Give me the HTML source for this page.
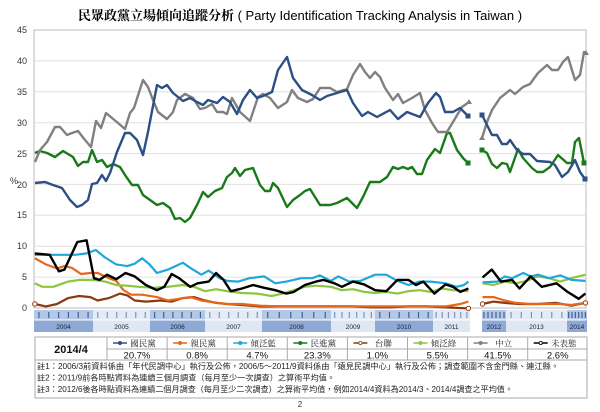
<!DOCTYPE html>
<html><head><meta charset="utf-8"><style>
body{margin:0;background:#fff;width:600px;height:407px;overflow:hidden;font-family:"Liberation Sans","Noto Sans CJK TC",sans-serif}
</style></head><body>
<svg id="s" width="600" height="407" xmlns="http://www.w3.org/2000/svg" font-family="Liberation Sans, Noto Sans CJK TC, sans-serif">
<text x="300" y="20" text-anchor="middle" font-size="13" fill="#000"><tspan font-family="Noto Serif CJK SC, serif" font-weight="bold">民眾政黨立場傾向追蹤分析</tspan> ( Party Identification Tracking Analysis in Taiwan )</text>
<rect x="34" y="30" width="552" height="278" fill="none" stroke="#bbb"/>
<g stroke="#e0e0e0" stroke-width="1">
<line x1="34" y1="60.9" x2="586" y2="60.9"/><line x1="34" y1="91.8" x2="586" y2="91.8"/><line x1="34" y1="122.7" x2="586" y2="122.7"/><line x1="34" y1="153.6" x2="586" y2="153.6"/><line x1="34" y1="184.4" x2="586" y2="184.4"/><line x1="34" y1="215.3" x2="586" y2="215.3"/><line x1="34" y1="246.2" x2="586" y2="246.2"/><line x1="34" y1="277.1" x2="586" y2="277.1"/>
</g>
<g font-size="9" fill="#333" text-anchor="end">
<text x="27" y="33">45</text><text x="27" y="64">40</text><text x="27" y="95">35</text><text x="27" y="126">30</text><text x="27" y="157">25</text><text x="27" y="188">20</text><text x="27" y="218">15</text><text x="27" y="249">10</text><text x="27" y="280">5</text><text x="27" y="311">0</text>
</g>
<text x="10" y="184" font-size="9" fill="#333">%</text>
<g id="band"></g>
<g id="lines" fill="none" stroke-width="2.2" stroke-linejoin="round"></g>
<g id="tbl"></g>
<text x="300" y="407" font-size="8" fill="#333" text-anchor="middle">2</text>
</svg>
<script>
var NS="http://www.w3.org/2000/svg";
function el(p,t,a,txt){var e=document.createElementNS(NS,t);for(var k in a)e.setAttribute(k,a[k]);if(txt!=null)e.textContent=txt;p.appendChild(e);return e;}
var L=document.getElementById('lines');
function pl(pts,c,w){el(L,'polyline',{points:pts.map(function(p){return p[0]+','+p[1]}).join(' '),stroke:c,'stroke-width':w||2.2});}
function z(pts){return pts.map(function(p){return [(20+p[0]*0.37).toFixed(1),(230+p[1]*0.344).toFixed(1)]});}
var grayA=[[35,162],[40,150],[47,142],[55,127],[60,127],[67,135],[72,133],[78,131],[85,140],[91,147],[96,121],[101,128],[106,113],[112,118],[118,123],[125,129],[130,113],[134,108],[143,80],[148,87],[153,100],[158,112],[167,119],[173,112],[177,100],[185,94],[193,98],[200,109],[205,108],[212,104],[217,112],[223,112],[227,114],[232,98],[240,112],[250,121],[258,97],[263,94],[270,98],[278,108],[287,102],[292,90],[298,98],[307,102],[313,99],[320,88],[330,88],[337,92],[347,89],[353,75],[360,64],[365,72],[370,78],[375,72],[380,77],[385,88],[393,100],[398,94],[403,103],[412,98],[420,93],[425,110],[432,123],[438,132],[447,132],[453,122],[462,107],[469,102]];
var grayB=[[482,138],[487,122],[492,110],[500,98],[510,90],[515,94],[523,87],[530,84],[538,73],[547,65],[552,70],[558,70],[563,62],[568,57],[575,80],[580,75],[584,52],[586,53]];
var blueA=[[35,183],[45,182],[53,185],[62,188],[70,200],[77,207],[82,205],[88,200],[92,184],[97,183],[102,175],[106,181],[110,173],[117,152],[125,133],[130,133],[137,140],[143,155],[148,132],[157,85],[162,88],[167,85],[173,93],[183,101],[190,98],[197,102],[203,105],[208,100],[217,103],[223,97],[230,102],[237,114],[243,100],[250,90],[257,98],[263,96],[272,92],[278,70],[287,57],[293,78],[302,90],[312,95],[320,100],[327,96],[337,93],[347,90],[353,103],[362,116],[368,112],[377,117],[390,110],[398,119],[407,112],[420,117],[428,103],[436,93],[440,97],[445,112],[453,112],[460,108],[468,116]];
var blueB=[[482,115],[487,125],[492,135],[497,135],[502,144],[507,144],[510,140],[517,150],[523,154],[530,154],[537,161],[550,162],[555,165],[562,177],[568,172],[575,160],[580,172],[585,179]];
var grnA=[[35,153],[40,151],[47,153],[55,157],[63,151],[73,157],[78,166],[83,162],[88,162],[92,150],[97,162],[102,160],[107,167],[113,164],[120,167],[125,175],[132,185],[138,185],[143,195],[150,200],[157,205],[163,203],[170,208],[175,219],[180,218],[185,222],[190,218],[197,205],[203,192],[208,197],[215,191],[222,188],[227,177],[232,173],[235,168],[240,176],[245,170],[253,168],[260,185],[265,191],[270,191],[273,183],[278,188],[287,207],[293,200],[300,195],[305,191],[310,189],[320,205],[330,205],[337,203],[347,198],[357,208],[363,197],[370,182],[380,182],[387,177],[393,167],[398,169],[403,167],[408,169],[412,167],[417,174],[422,174],[427,160],[435,149],[440,153],[447,133],[450,133],[457,150],[463,158],[468,163]];
var grnB=[[482,150],[487,153],[492,164],[497,168],[502,163],[507,164],[510,172],[518,149],[523,158],[532,168],[537,172],[543,172],[550,167],[558,155],[567,163],[572,163],[575,142],[579,138],[584,163]];
var blkA=z([[40,68],[80,72],[105,120],[120,115],[155,35],[180,30],[200,140],[215,145],[235,130],[260,143],[285,125],[310,135],[340,160],[370,175],[390,165],[410,128],[430,140],[460,165],[480,155],[510,150],[530,125],[550,145],[570,178],[600,170],[630,160],[660,168],[690,175],[720,185],[740,180],[770,160],[800,150],[820,145],[850,155],[870,165],[900,150],[930,158],[960,175],[990,178],[1020,145],[1050,145],[1070,160],[1090,150],[1120,185],[1150,158],[1170,165],[1190,180],[1212,170]]);
var blkB=z([[1250,138],[1275,115],[1300,150],[1330,145],[1350,170],[1380,135],[1410,165],[1450,155],[1480,180],[1510,200],[1528,185]]);
var cyA=z([[40,72],[100,72],[150,72],[180,68],[205,58],[230,80],[260,100],[290,105],[310,98],[330,82],[350,100],[370,125],[400,115],[440,95],[460,110],[490,130],[510,118],[540,140],[560,148],[590,150],[620,140],[660,135],[690,155],[720,150],[760,140],[790,140],[810,132],[840,148],[860,135],[890,150],[920,148],[960,130],[990,130],[1020,148],[1050,160],[1080,150],[1110,150],[1150,155],[1180,165],[1200,160],[1212,150]]);
var cyB=z([[1250,152],[1290,150],[1310,135],[1330,140],[1360,125],[1380,135],[1400,130],[1430,140],[1460,132],[1490,145],[1528,148]]);
var lgA=z([[40,155],[60,165],[90,165],[130,150],[160,145],[200,145],[230,150],[260,160],[290,162],[320,165],[360,168],[400,165],[440,160],[470,165],[500,178],[530,172],[560,178],[600,183],[640,185],[680,192],[710,185],[740,175],[770,165],[800,162],[840,165],[870,175],[900,172],[930,180],[960,183],[990,180],[1020,185],[1050,178],[1080,175],[1110,180],[1140,170],[1170,175],[1212,178]]);
var lgB=z([[1250,155],[1280,160],[1310,150],[1340,155],[1370,148],[1400,135],[1430,140],[1460,150],[1490,140],[1528,130]]);
var orA=z([[40,82],[70,100],[100,112],[120,105],[140,110],[165,128],[190,125],[210,125],[240,140],[260,148],[280,175],[300,188],[330,188],[370,195],[400,205],[430,200],[460,195],[490,205],[520,210],[560,215],[600,215],[650,220],[700,222],[1150,222],[1190,215],[1212,208]]);
var orB=z([[1250,195],[1280,195],[1310,205],[1340,212],[1380,215],[1420,215],[1460,215],[1490,218],[1528,212]]);
var brA=z([[40,215],[70,222],[100,215],[130,198],[160,192],[190,195],[210,205],[240,198],[270,185],[290,190],[310,205],[340,208],[380,205],[410,208],[440,198],[470,195],[500,205],[530,212],[560,215],[600,218],[650,222],[900,222],[950,225],[1000,225],[1050,222],[1100,222],[1150,225],[1212,228]]);
var brB=z([[1250,215],[1280,208],[1310,212],[1350,215],[1400,215],[1450,212],[1490,220],[1528,212]]);
pl(brA,'#8b3a0f');pl(brB,'#8b3a0f');
pl(orA,'#e8661c');pl(orB,'#e8661c');
pl(lgA,'#8cc63f');pl(lgB,'#8cc63f');
pl(cyA,'#1fa7d9');pl(cyB,'#1fa7d9');
pl(blkA,'#000',2.4);pl(blkB,'#000',2.4);
pl(grnA,'#1a7a1a',2.4);pl(grnB,'#1a7a1a',2.4);
pl(grayA,'#808080',2.4);pl(grayB,'#808080',2.4);
pl(blueA,'#2c4f86',2.4);pl(blueB,'#2c4f86',2.4);
[[brA[0]],[brA[brA.length-1]],[brB[0]],[brB[brB.length-1]]].forEach(function(p){el(L,'circle',{cx:p[0][0],cy:p[0][1],r:2.2,fill:'#fff',stroke:'#8b3a0f','stroke-width':1});});
[[469,102],[482,138],[586,53]].forEach(function(p){el(L,'polygon',{points:(p[0]-3)+','+(p[1]+2)+' '+(p[0]+3)+','+(p[1]+2)+' '+p[0]+','+(p[1]-3),fill:'#808080'});});
[[468,116],[482,115],[585,179]].forEach(function(p){el(L,'rect',{x:p[0]-2.5,y:p[1]-2.5,width:5,height:5,fill:'#2c4f86'});});
[[468,163],[482,150],[584,163]].forEach(function(p){el(L,'rect',{x:p[0]-2.5,y:p[1]-2.5,width:5,height:5,fill:'#1a7a1a'});});
var B=document.getElementById('band');
var yrs=[['2004',34,93,1],['2005',93,150,0],['2006',150,205,1],['2007',205,262,0],['2008',262,331,1],['2009',331,375,0],['2010',375,433,1],['2011',433,470,0],['2012',482,506,1],['2013',506,567,0],['2014',567,587,1]];
yrs.forEach(function(y){
 el(B,'rect',{x:y[1],y:310,width:y[2]-y[1],height:10,fill:y[3]?'#b4c8e6':'#e3ebf6'});
 el(B,'rect',{x:y[1],y:320,width:y[2]-y[1],height:12,fill:y[3]?'#8ea9d6':'#dfe7f3'});
 el(B,'text',{x:(y[1]+y[2])/2,y:329,'font-size':'6.5','text-anchor':'middle',fill:'#223'},y[0]);
 var n=6;for(var i=0;i<n;i++){var xx=y[1]+(y[2]-y[1])*(i+0.5)/n;el(B,'rect',{x:xx-0.6,y:312,width:1.2,height:6,fill:y[3]?'#3d5f9a':'#7f93b8'});}
});
el(B,'line',{x1:34,y1:320,x2:586,y2:320,stroke:'#fff','stroke-width':1});
var T=document.getElementById('tbl');
el(T,'rect',{x:35,y:337,width:552,height:61,fill:'#fff',stroke:'#aaa'});
el(T,'line',{x1:35,y1:360,x2:587,y2:360,stroke:'#aaa'});
el(T,'line',{x1:107,y1:349,x2:587,y2:349,stroke:'#aaa'});
var names=['國民黨','親民黨','傾泛藍','民進黨','台聯','傾泛綠','中立','未表態'];
var cols=['#2c4f86','#e8661c','#1fa7d9','#1a7a1a','#8b3a0f','#8cc63f','#808080','#000'];
var vals=['20.7%','0.8%','4.7%','23.3%','1.0%','5.5%','41.5%','2.6%'];
for(var i=0;i<8;i++){var x0=107+i*60.1;
 el(T,'line',{x1:x0,y1:337,x2:x0,y2:360,stroke:'#aaa'});
 var cx=x0+30;
 el(T,'line',{x1:cx-24,y1:343,x2:cx-10,y2:343,stroke:cols[i],'stroke-width':1.5});
 el(T,'circle',{cx:cx-17,cy:343,r:1.6,fill:i==4||i==7?'#fff':cols[i],stroke:cols[i],'stroke-width':0.8});
 el(T,'text',{x:cx+6,y:346.5,'font-size':'8.5','text-anchor':'middle',fill:'#222','font-family':'Noto Serif CJK TC, serif'},names[i]);
 el(T,'text',{x:cx,y:358.5,'font-size':'9.5','text-anchor':'middle',fill:'#111'},vals[i]);
}
el(T,'text',{x:71,y:353,'font-size':'11','font-weight':'bold','text-anchor':'middle',fill:'#111'},'2014/4');
var notes=['註1：2006/3前資料係由「年代民調中心」執行及公佈，2006/5～2011/9資料係由「遠見民調中心」執行及公佈；調查範圍不含金門縣、連江縣。','註2：2011/9前各時點資料為連續三個月調查（每月至少一次調查）之算術平均值。','註3：2012/6後各時點資料為連續二個月調查（每月至少二次調查）之算術平均值，例如2014/4資料為2014/3、2014/4調查之平均值。'];
var tl=[522,298,476];
notes.forEach(function(t,i){el(T,'text',{x:37,y:369+i*11.5,'font-size':'8',fill:'#222',textLength:tl[i],lengthAdjust:'spacingAndGlyphs'},t);});
</script>
</body></html>
